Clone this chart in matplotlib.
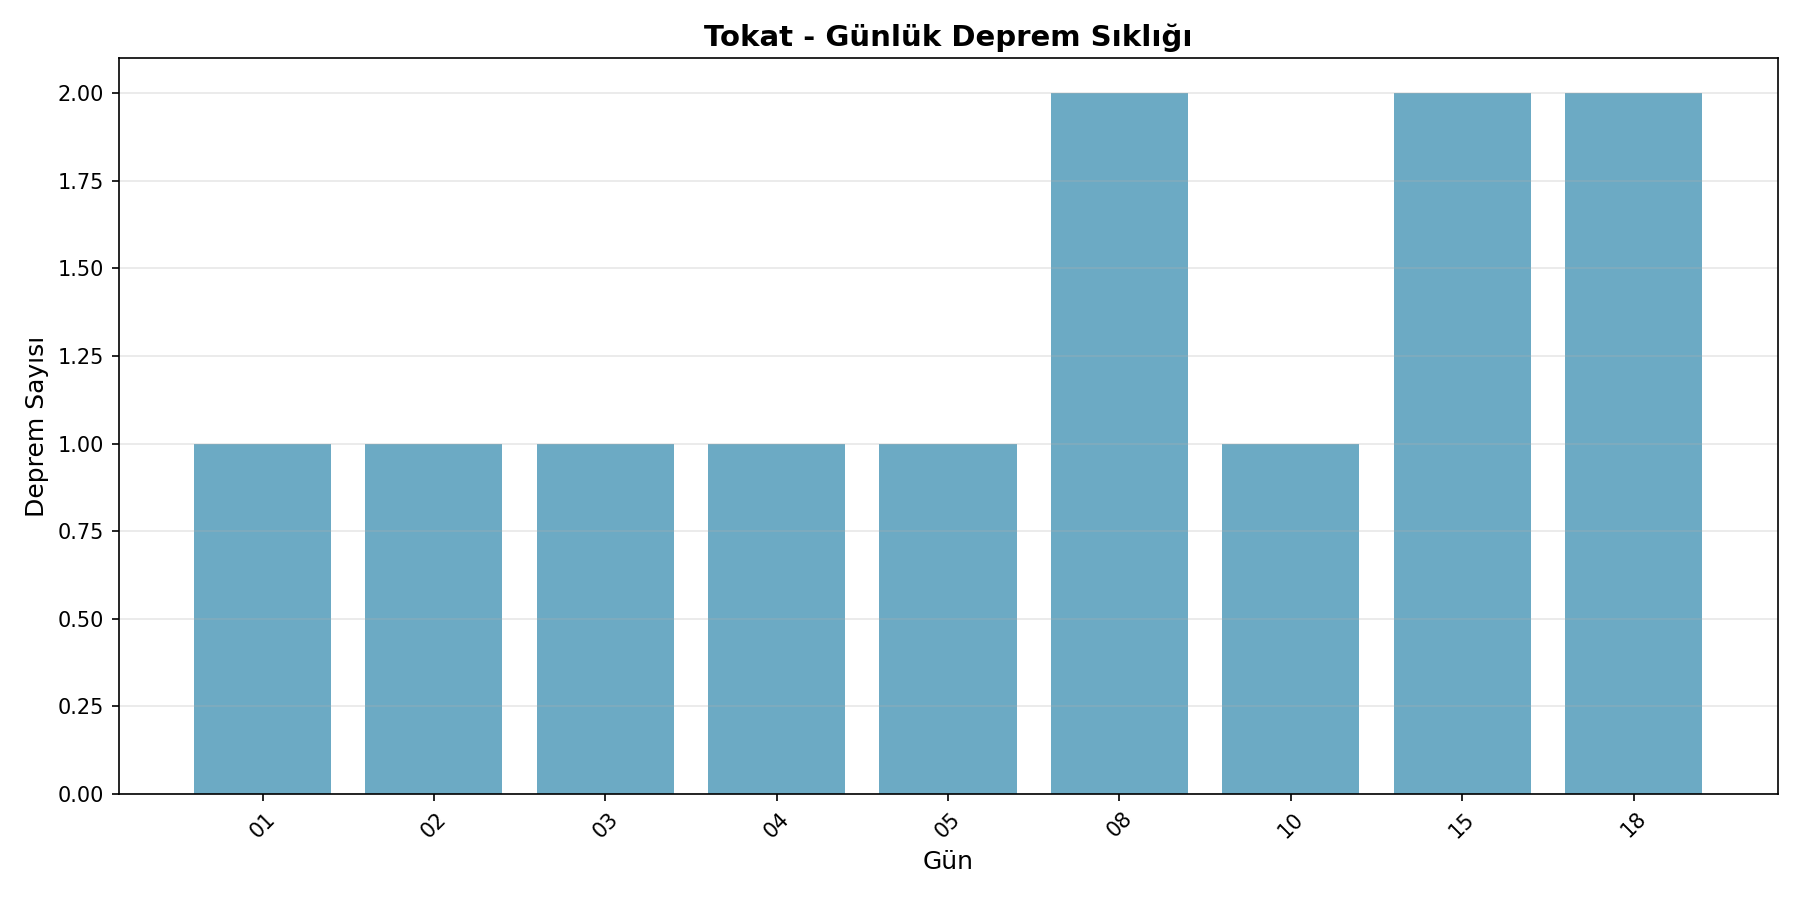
import matplotlib
matplotlib.use("Agg")
import matplotlib.pyplot as plt

# günlük deprem sayıları
days = ["01", "02", "03", "04", "05", "08", "10", "15", "18"]
counts = [1, 1, 1, 1, 1, 2, 1, 2, 2]

fig, ax = plt.subplots(figsize=(12, 6))
ax.bar(days, counts, color="#2E86AB", alpha=0.7)
ax.set_title("Tokat - Günlük Deprem Sıklığı", fontsize=14, fontweight="bold")
ax.set_xlabel("Gün", fontsize=12)
ax.set_ylabel("Deprem Sayısı", fontsize=12)
plt.xticks(rotation=45)
ax.grid(axis="y", alpha=0.3)
plt.tight_layout()
plt.savefig("out.png", dpi=150)
